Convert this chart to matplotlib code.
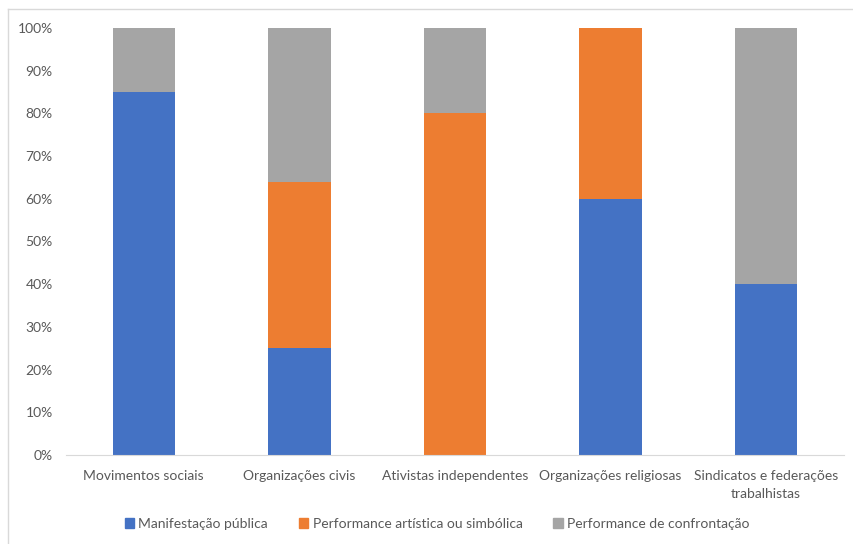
import matplotlib.pyplot as plt
import matplotlib.patches as patches
from matplotlib.lines import Line2D
from matplotlib.ticker import PercentFormatter

plt.rcParams['font.family'] = ['Lato', 'DejaVu Sans']

# grupos e percentuais de cada tipo de ação
grupos = ['Movimentos sociais', 'Organizações civis', 'Ativistas independentes',
          'Organizações religiosas', 'Sindicatos e federações\ntrabalhistas']
manifestacao = [85, 25, 0, 60, 40]
performance_artistica = [0, 39, 80, 40, 0]
confrontacao = [15, 36, 20, 0, 60]

series = ['Manifestação pública', 'Performance artística ou simbólica',
          'Performance de confrontação']
cores = ['#4472C4', '#ED7D31', '#A5A5A5']
texto = '#595959'

fig = plt.figure(figsize=(8.54, 5.44), dpi=100)
ax = fig.add_axes([66 / 854, 1 - 455 / 544, 778 / 854, 427 / 544])

x = range(len(grupos))
base = [0] * len(grupos)
for vals, cor, nome in zip([manifestacao, performance_artistica, confrontacao], cores, series):
    ax.bar(x, vals, width=0.4, bottom=base, color=cor, label=nome)
    base = [b + v for b, v in zip(base, vals)]

ax.set_xlim(-0.5, len(grupos) - 0.5)
ax.set_ylim(0, 100)
ax.set_yticks(range(0, 101, 10))
ax.yaxis.set_major_formatter(PercentFormatter(decimals=0))
ax.set_xticks(list(x))
ax.set_xticklabels(grupos, fontsize=10, color=texto, linespacing=1.55)
ax.tick_params(axis='y', labelsize=10, labelcolor=texto, length=0, pad=9.5)
ax.tick_params(axis='x', length=0, pad=11)

for s in ['top', 'right', 'left']:
    ax.spines[s].set_visible(False)
ax.spines['bottom'].set_color('#D9D9D9')

# borda da área do gráfico
fig.add_artist(Line2D([8 / 854, 1], [1 - 9 / 544, 1 - 9 / 544], color='#D9D9D9', lw=1))
fig.add_artist(Line2D([8 / 854, 8 / 854], [0, 1 - 9 / 544], color='#D9D9D9', lw=1))

handles = [patches.Patch(color=c) for c in cores]
fig.legend(handles, series, loc='center', bbox_to_anchor=(437 / 854, 1 - 524 / 544),
           ncol=3, frameon=False, fontsize=10, labelcolor=texto,
           handlelength=0.7, handleheight=0.7, handletextpad=0.3, columnspacing=2.2)

fig.savefig('out.png', dpi=100)
